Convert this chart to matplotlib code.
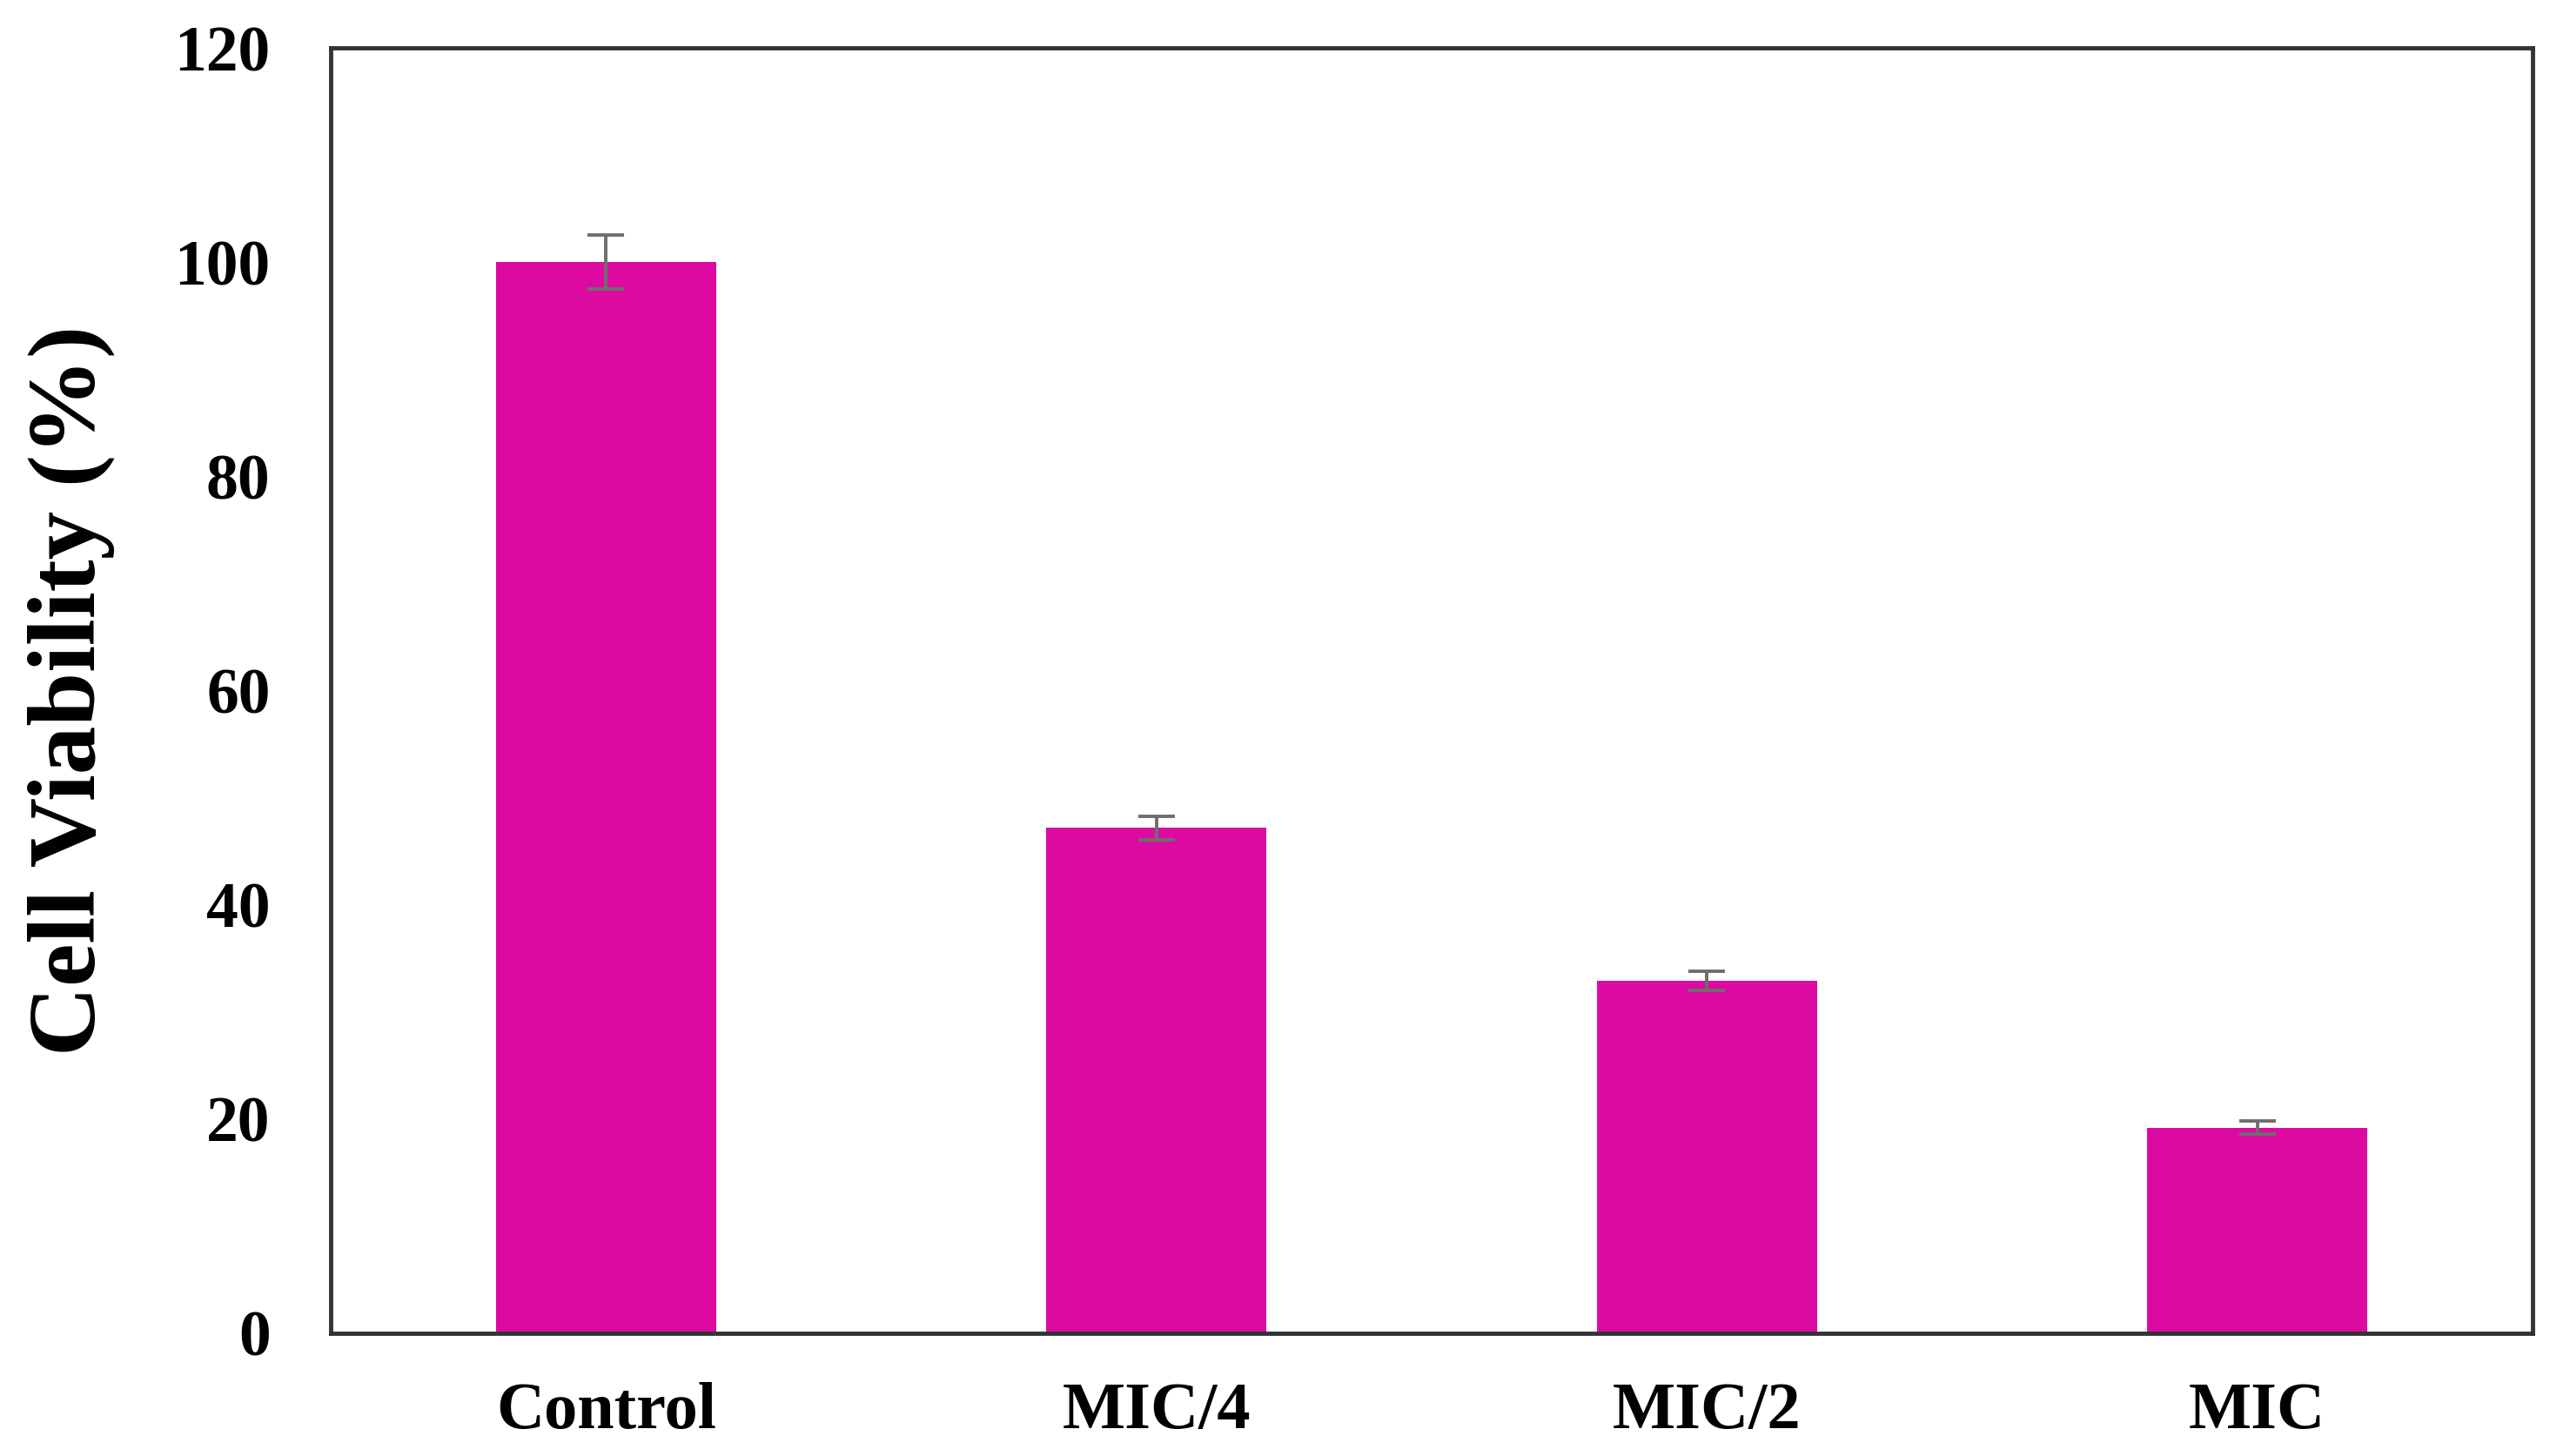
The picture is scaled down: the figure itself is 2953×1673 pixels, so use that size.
import matplotlib
matplotlib.use("Agg")
import matplotlib.pyplot as plt

categories = ["Control", "MIC/4", "MIC/2", "MIC"]
values = [100.0, 47.2, 32.9, 19.2]
errors = [2.5, 1.1, 0.9, 0.6]
yticks = [0, 20, 40, 60, 80, 100, 120]

plt.rcParams['font.family'] = ['Liberation Serif', 'DejaVu Serif']
plt.rcParams['font.weight'] = 'bold'

fig = plt.figure(figsize=(29.53, 16.73), dpi=100)
ax = fig.add_axes([380/2953, 1 - 1532/1673, (2910-380)/2953, (1532-55)/1673])

x = list(range(len(categories)))
ax.bar(x, values, width=0.4, color='#DC0AA0', zorder=2)
ax.errorbar(x, values, yerr=errors, fmt='none', ecolor='#6e6e6e',
            elinewidth=2.8, capsize=15, capthick=2.8, zorder=3)

ax.set_xlim(-0.5, 3.5)
ax.set_ylim(0, 120)
ax.set_yticks(yticks)
ax.set_yticklabels([str(t) for t in yticks], fontsize=53, fontweight='bold')
ax.set_xticks(x)
ax.set_xticklabels(categories, fontsize=55, fontweight='bold')
ax.tick_params(axis='both', length=0)
ax.tick_params(axis='y', pad=50)
ax.tick_params(axis='x', pad=40)

for s in ax.spines.values():
    s.set_linewidth(3.5)
    s.set_color('#333333')

ax.set_ylabel("Cell Viability (%)", fontsize=80, fontweight='bold')
ax.yaxis.set_label_coords(-0.098, 0.5)

fig.savefig("out.png", dpi=100)
